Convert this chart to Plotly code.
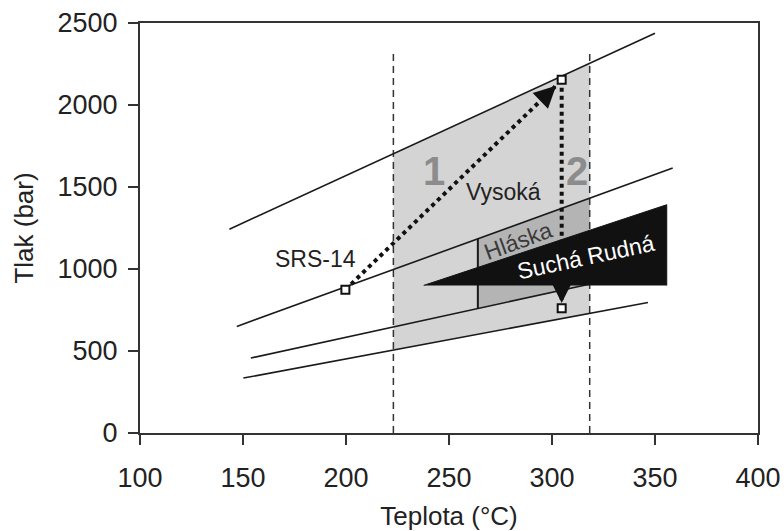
import plotly.graph_objects as go

# ---- data ----
x_ticks = [100, 150, 200, 250, 300, 350, 400]
y_ticks = [0, 500, 1000, 1500, 2000, 2500]

# isochore lines (start / end points, temperature °C, pressure bar)
iso1_x = [143.4, 350.0]
iso1_y = [1243, 2437]
iso2_x = [147.0, 358.6]
iso2_y = [650, 1616]
iso3_x = [153.8, 318.0]
iso3_y = [457, 907]
iso4_x = [150.2, 346.6]
iso4_y = [335, 796]

# temperature bounds (dashed)
t_low = 223.0
t_high = 318.3
dash_top = 2320

# shaded regions
vys_x = [223.0, 223.0, 318.3, 318.3]
vys_y = [506, 1703, 2252, 729]
hla_x = [264.0, 264.0, 318.3, 318.3]
hla_y = [756, 1183, 1431, 907]

# Suchá Rudná triangle
sr_x = [237.7, 355.7, 355.7]
sr_y = [900, 1392, 900]

# points
pts_x = [199.7, 304.7, 304.7]
pts_y = [874, 2154, 760]

# path 1 (dotted arrow) and path 2
p1_x = [199.7, 302.0]
p1_y = [874, 2118]
p2_x = [304.7, 304.7]
p2_y = [2154, 793]
p2_tail = 905

# labels
lbl_text = ["1", "2", "Vysoká", "Hláska", "Suchá Rudná", "SRS-14"]
lbl_x = [242.6, 312.3, 276.5, 283.5, 316.5, 185.0]
lbl_y = [1600, 1600, 1471, 1170, 1072, 1063]

FONT = "Liberation Sans, Arial, sans-serif"

fig = go.Figure()

fig.add_trace(go.Scatter(x=vys_x, y=vys_y, fill="toself", fillcolor="#d4d4d4",
                         mode="none", hoverinfo="skip"))
fig.add_trace(go.Scatter(x=hla_x, y=hla_y, fill="toself", fillcolor="#b4b4b4",
                         mode="none", hoverinfo="skip"))

for tx in (t_low, t_high):
    fig.add_trace(go.Scatter(x=[tx, tx], y=[0, dash_top], mode="lines",
                             line=dict(color="#333333", width=1.5, dash="7px,5px"),
                             hoverinfo="skip"))

for xs, ys in ((iso1_x, iso1_y), (iso2_x, iso2_y), (iso3_x, iso3_y), (iso4_x, iso4_y)):
    fig.add_trace(go.Scatter(x=xs, y=ys, mode="lines",
                             line=dict(color="#1a1a1a", width=1.6), hoverinfo="skip"))

# Hláska left edge
fig.add_trace(go.Scatter(x=[hla_x[0], hla_x[1]], y=[hla_y[0], hla_y[1]], mode="lines",
                         line=dict(color="#1a1a1a", width=2), hoverinfo="skip"))

fig.add_trace(go.Scatter(x=sr_x, y=sr_y, fill="toself", fillcolor="#111111",
                         mode="lines", line=dict(color="#111111", width=1), hoverinfo="skip"))

fig.add_trace(go.Scatter(x=p1_x, y=p1_y, mode="lines",
                         line=dict(color="#111111", width=4, dash="dot"), hoverinfo="skip"))
fig.add_trace(go.Scatter(x=p2_x, y=p2_y, mode="lines",
                         line=dict(color="#111111", width=4, dash="dot"), hoverinfo="skip"))

fig.add_trace(go.Scatter(x=pts_x, y=pts_y, mode="markers",
                         marker=dict(symbol="square", size=8, color="white",
                                     line=dict(color="#111111", width=2)),
                         hoverinfo="skip"))

annotations = []
# arrowheads
f = 0.07
annotations.append(dict(x=p1_x[1], y=p1_y[1], xref="x", yref="y",
                        ax=p1_x[1] - f * (p1_x[1] - p1_x[0]),
                        ay=p1_y[1] - f * (p1_y[1] - p1_y[0]),
                        axref="x", ayref="y", showarrow=True, arrowhead=2,
                        arrowwidth=2, arrowsize=2.2, arrowcolor="#111111", text=""))
annotations.append(dict(x=p2_x[1], y=p2_y[1], xref="x", yref="y",
                        ax=p2_x[1], ay=p2_tail, axref="x", ayref="y",
                        showarrow=True, arrowhead=2, arrowwidth=2, arrowsize=2.0,
                        arrowcolor="#111111", text=""))

styles = [
    dict(size=40, color="#8c8c8c", angle=0, bold=True),
    dict(size=40, color="#8c8c8c", angle=0, bold=True),
    dict(size=23, color="#222222", angle=0, bold=False),
    dict(size=23, color="#3a3a3a", angle=-20, bold=False),
    dict(size=23, color="#ffffff", angle=-12, bold=False),
    dict(size=23, color="#222222", angle=0, bold=False),
]
for t, x, y, s in zip(lbl_text, lbl_x, lbl_y, styles):
    annotations.append(dict(x=x, y=y, xref="x", yref="y", showarrow=False,
                            text=f"<b>{t}</b>" if s["bold"] else t,
                            textangle=s["angle"],
                            font=dict(family=FONT, size=s["size"], color=s["color"])))

fig.update_layout(
    width=784, height=531,
    margin=dict(l=140, r=26, t=23, b=98, autoexpand=False),
    paper_bgcolor="white", plot_bgcolor="white",
    showlegend=False,
    font=dict(family=FONT, size=27, color="#222222"),
    annotations=annotations,
)
fig.update_xaxes(range=[100, 400], tickvals=x_ticks, ticks="outside", ticklen=10,
                 tickwidth=2, tickcolor="#333333", showline=True, linewidth=2,
                 linecolor="#333333", mirror=True, showgrid=False, zeroline=False,
                 ticklabelstandoff=10, automargin=False,
                 tickfont=dict(size=27, color="#222222"),
                 title=dict(text="Teplota (°C)", font=dict(size=26, color="#222222"), standoff=19))
fig.update_yaxes(range=[0, 2500], tickvals=y_ticks, ticks="outside", ticklen=10,
                 tickwidth=2, tickcolor="#333333", showline=True, linewidth=2,
                 linecolor="#333333", mirror=True, showgrid=False, zeroline=False,
                 ticklabelstandoff=5, automargin=False,
                 tickfont=dict(size=27, color="#222222"),
                 title=dict(text="Tlak (bar)", font=dict(size=26, color="#222222"), standoff=16))

fig.write_html("out.html")
